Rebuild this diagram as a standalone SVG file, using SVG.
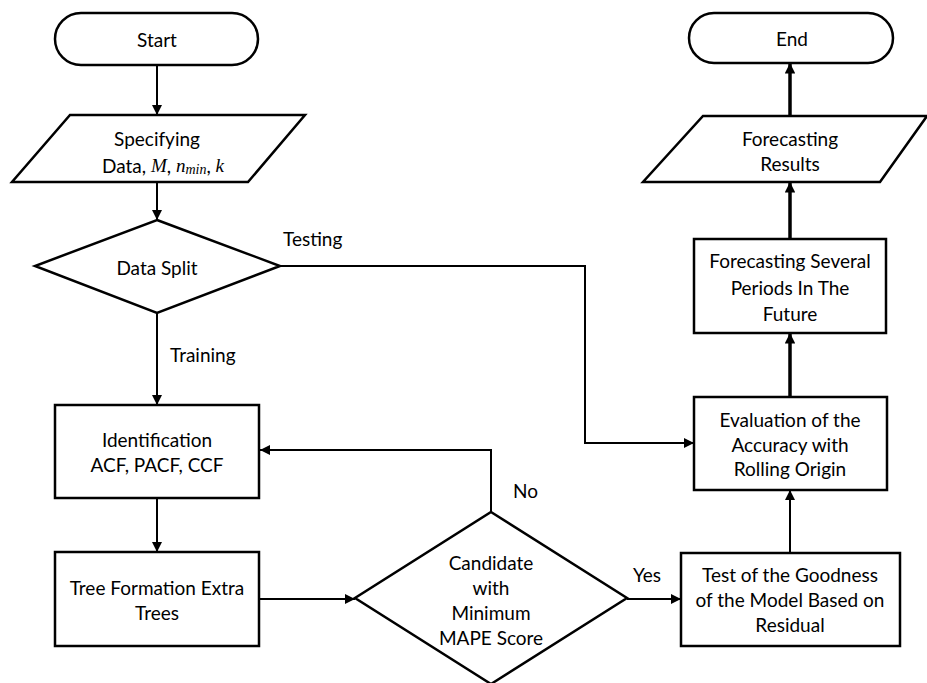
<svg xmlns="http://www.w3.org/2000/svg" width="927" height="683" viewBox="0 0 927 683">
<style>
.s{fill:#fff;stroke:#000;stroke-width:2.5}
.t{font-family:Lato,"Open Sans",sans-serif;font-size:19px;fill:#000;text-anchor:middle;dominant-baseline:central}
.l{font-family:Lato,"Open Sans",sans-serif;font-size:19px;fill:#000;dominant-baseline:central}
.m{font-family:"Liberation Serif","DejaVu Serif",serif;font-style:italic}
.c{fill:none;stroke:#000;stroke-width:2}
.k{fill:none;stroke:#000;stroke-width:3.5}
</style>
<defs>
<marker id="a" viewBox="0 0 10 10" refX="10" refY="5" markerWidth="5" markerHeight="5" orient="auto" markerUnits="strokeWidth"><path d="M0,0L10,5L0,10z" fill="#000"/></marker>
<marker id="b" viewBox="0 0 10 10" refX="10" refY="5" markerWidth="3" markerHeight="3" orient="auto" markerUnits="strokeWidth"><path d="M0,0L10,5L0,10z" fill="#000"/></marker>
</defs>
<rect width="927" height="683" fill="#fff"/>
<g id="connectors">
<path class="c" d="M157,65V115" marker-end="url(#a)"/>
<path class="c" d="M157,182V220" marker-end="url(#a)"/>
<path class="c" d="M157,313V405" marker-end="url(#a)"/>
<path class="c" d="M157,498V552" marker-end="url(#a)"/>
<path class="c" d="M259,599H355" marker-end="url(#a)"/>
<path class="c" d="M491,512V450H260" marker-end="url(#a)"/>
<path class="c" d="M627,599H681" marker-end="url(#a)"/>
<path class="c" d="M280,266H585V443H694" marker-end="url(#a)"/>
<path class="c" d="M790,553V490" marker-end="url(#a)"/>
<path class="k" d="M790,397V333" marker-end="url(#b)"/>
<path class="k" d="M790,239V182" marker-end="url(#b)"/>
<path class="k" d="M790,116V63" marker-end="url(#b)"/>
<text class="l" x="283" y="238">Testing</text>
<text class="l" x="170" y="354">Training</text>
<text class="l" x="513" y="490">No</text>
<text class="l" x="633" y="574">Yes</text>
</g>
<g id="start">
<rect class="s" x="55" y="13" width="203" height="52" rx="26"/>
<text class="t" x="157" y="39">Start</text>
</g>
<g id="specifying">
<polygon class="s" points="70,115 305,115 248,182 12,182"/>
<text class="t" x="157" y="138">Specifying</text>
<text class="t" x="163" y="165">Data, <tspan class="m">M</tspan>, <tspan class="m">n</tspan><tspan class="m" font-size="14" dy="4">min</tspan><tspan dy="-4">, </tspan><tspan class="m">k</tspan></text>
</g>
<g id="datasplit">
<polygon class="s" points="157,220 280,266 157,313 35,266"/>
<text class="t" x="157" y="267">Data Split</text>
</g>
<g id="identification">
<rect class="s" x="55" y="405" width="204" height="93"/>
<text class="t" x="157" y="439">Identification</text>
<text class="t" x="157" y="464">ACF, PACF, CCF</text>
</g>
<g id="tree">
<rect class="s" x="55" y="552" width="204" height="94"/>
<text class="t" x="157" y="587">Tree Formation Extra</text>
<text class="t" x="157" y="612">Trees</text>
</g>
<g id="candidate">
<polygon class="s" points="491,512 627,598 491,684 355,598"/>
<text class="t" x="491" y="562">Candidate</text>
<text class="t" x="491" y="587">with</text>
<text class="t" x="491" y="612">Minimum</text>
<text class="t" x="491" y="637">MAPE Score</text>
</g>
<g id="test">
<rect class="s" x="681" y="553" width="219" height="93"/>
<text class="t" x="790" y="574">Test of the Goodness</text>
<text class="t" x="790" y="599">of the Model Based on</text>
<text class="t" x="790" y="624">Residual</text>
</g>
<g id="evaluation">
<rect class="s" x="694" y="397" width="193" height="93"/>
<text class="t" x="790" y="419">Evaluation of the</text>
<text class="t" x="790" y="444">Accuracy with</text>
<text class="t" x="790" y="468">Rolling Origin</text>
</g>
<g id="forecasting">
<rect class="s" x="694" y="239" width="192" height="94"/>
<text class="t" x="790" y="260">Forecasting Several</text>
<text class="t" x="790" y="287">Periods In The</text>
<text class="t" x="790" y="313">Future</text>
</g>
<g id="results">
<polygon class="s" points="703,116 927,116 880,182 643,182"/>
<text class="t" x="790" y="138">Forecasting</text>
<text class="t" x="790" y="163">Results</text>
</g>
<g id="end">
<rect class="s" x="689" y="13" width="204" height="50" rx="25"/>
<text class="t" x="792" y="38">End</text>
</g>
</svg>
